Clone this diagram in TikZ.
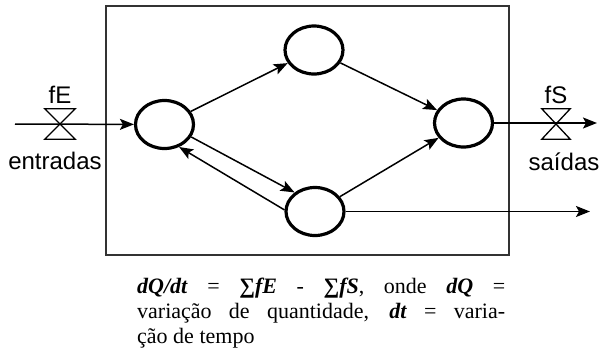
\documentclass[tikz,border=0pt]{standalone}
\usepackage{fontspec}
\setmainfont{Liberation Serif}
\newfontfamily\lblfont{Liberation Sans}
\usetikzlibrary{arrows.meta,shapes.geometric}

\begin{document}
\begin{tikzpicture}
	[x=1pt,y=-1pt,>={Stealth[length=14pt,width=11pt,inset=3pt]},
	nn/.style={ellipse,draw=black,line width=3.2pt,minimum width=58pt,minimum height=48pt,inner sep=0pt},
	valve/.style={minimum width=30pt,minimum height=30pt,inner sep=0pt},
	flow/.style={->,line width=1.5pt,draw=black},
	lbl/.style={font=\lblfont\fontsize{24}{24}\selectfont,inner sep=0pt,anchor=base},
	caption/.style={font=\fontsize{22}{25}\selectfont,inner sep=0pt,align=left,anchor=base west}]
	\useasboundingbox (0,0) rectangle (600,354);
	%BOX
	\node[draw={rgb,255:red,51;green,51;blue,51},line width=2pt,minimum width=403pt,minimum height=249pt,inner sep=0pt] (box) at (307.5,130.5) {};
	%NODES
	\node[nn] (e1) at (164.5,124.5) {};
	\node[nn] (e2) at (314,50) {};
	\node[nn] (e3) at (463.5,123) {};
	\node[nn] (e4) at (315,211.5) {};
	%ARROWS
	\draw[flow] (e1) -- (e2);
	\draw[flow] (e2) -- (e3);
	\draw[flow] (e4) -- (e3);
	\draw[flow] (e1.-25) -- (e4.137);
	\draw[flow] (e4.177) -- (e1.-57);
	%INPUT
	\coordinate (in) at (15,124);
	\node[valve] (vE) at (60,124) {};
	\draw[line width=1.3pt] (vE.north west) -- (vE.north east) -- (vE.south west) -- (vE.south east) -- cycle;
	\draw[flow] (in) -- (e1);
	\node[lbl] (fE) at (60,103.5) {fE};
	\node[lbl] (entradas) at (55,169) {entradas};
	%OUTPUT
	\coordinate (out) at (597,123);
	\node[valve,minimum width=28pt] (vS) at (556,124) {};
	\draw[line width=1.3pt] (vS.north west) -- (vS.north east) -- (vS.south west) -- (vS.south east) -- cycle;
	\draw[flow] (e3) -- (out);
	\node[lbl] (fS) at (556,103.5) {fS};
	\node[lbl] (saidas) at (564,170) {saídas};
	\coordinate (out2) at (590,211.5);
	\draw[flow] (e4) -- (out2);
	%TEXT
	\node[caption] (eq) at (137,343) {\makebox[368pt][s]{\textbf{\textit{dQ/dt}} = \textbf{\textit{∑fE}} - \textbf{\textit{∑fS}}, onde \textbf{\textit{dQ}} =}\\
		\makebox[368pt][s]{variação de quantidade, \textbf{\textit{dt}} = varia-}\\
		ção de tempo};
\end{tikzpicture}
\end{document}
